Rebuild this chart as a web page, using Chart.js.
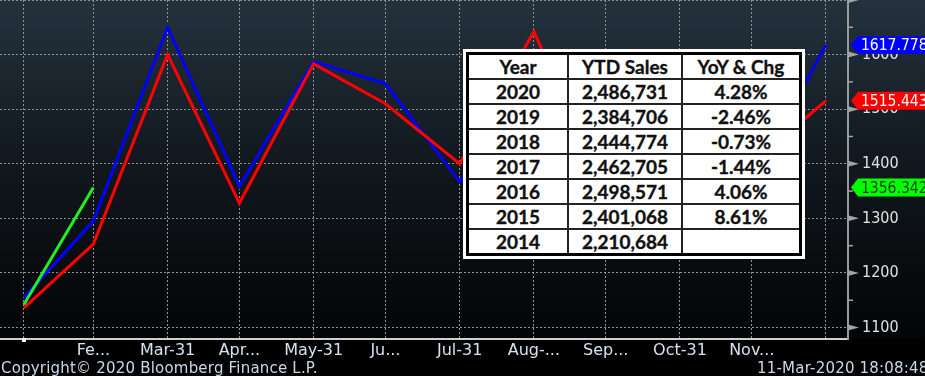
<!DOCTYPE html>
<html>
<head>
<meta charset="utf-8">
<script src="https://cdn.jsdelivr.net/npm/chart.js@4/dist/chart.umd.min.js"></script>
<style>
  html, body { margin: 0; padding: 0; background: #000; }
  #wrap { position: relative; width: 925px; height: 376px; overflow: hidden; }
  #chart { position: absolute; left: 0; top: 0; }
  .foot { position: absolute; top: 359px; font: 15px "DejaVu Sans", sans-serif; letter-spacing: 0.2px; color: #c9d9ea; white-space: nowrap; }
  #ytd-box { position: absolute; left: 463px; top: 49px; background: #fff; padding: 3px; }
  #ytd { border-collapse: collapse; border: 3px solid #000; font: bold 19px Lato, sans-serif; color: #111; -webkit-text-stroke: 0.35px #111; }
  #ytd td { border: 2px solid #222; height: 23px; padding: 0; text-align: center; line-height: 23px; }
</style>
</head>
<body>
<div id="wrap">
  <canvas id="chart" width="925" height="376"></canvas>
  <div id="ytd-box"><table id="ytd"></table></div>
  <div class="foot" style="left:1px">Copyright© 2020 Bloomberg Finance L.P.</div>
  <div class="foot" style="left:757px">11-Mar-2020 18:08:48</div>
</div>
<script>
// month-end day of year (2020)
const monthDays   = [31, 60, 91, 121, 152, 182, 213, 244, 274, 305, 335, 366];
const monthLabels = ['', 'Fe...', 'Mar-31', 'Apr...', 'May-31', 'Ju...', 'Jul-31', 'Aug-...', 'Sep...', 'Oct-31', 'Nov...', ''];

const greenVals = [1142, 1356.342];
const blueVals  = [1155, 1295, 1650, 1359, 1587, 1547, 1367, 1560, 1380, 1540, 1368, 1617.778];
const redVals   = [1136, 1253, 1600, 1328, 1583, 1510, 1400, 1642, 1350, 1560, 1400, 1515.443];

const yTicks = [1100, 1150, 1200, 1250, 1300, 1350, 1400, 1450, 1500, 1550, 1600, 1650, 1700];

const tableYears = ['2020', '2019', '2018', '2017', '2016', '2015', '2014'];
const tableSales = ['2,486,731', '2,384,706', '2,444,774', '2,462,705', '2,498,571', '2,401,068', '2,210,684'];
const tableYoY   = ['4.28%', '-2.46%', '-0.73%', '-1.44%', '4.06%', '8.61%', ''];

function buildTable() {
  const colW = [98, 112, 116];
  const head = ['Year', 'YTD Sales', 'YoY & Chg'];
  const row = cells => '<tr>' + cells.map((c, i) => `<td style="width:${colW[i]}px">${c}</td>`).join('') + '</tr>';
  document.getElementById('ytd').innerHTML =
    row(head) + tableYears.map((y, i) => row([y, tableSales[i], tableYoY[i]])).join('');
}

const toPts = vals => vals.map((v, i) => ({ x: monthDays[i], y: v }));

const bgPlugin = {
  id: 'bg',
  beforeDraw(chart) {
    const { ctx } = chart;
    const bottom = chart.chartArea.bottom;
    ctx.save();
    ctx.fillStyle = '#000';
    ctx.fillRect(0, 0, chart.width, chart.height);
    const g = ctx.createLinearGradient(0, 0, 0, bottom);
    g.addColorStop(0, '#24323d');
    g.addColorStop(0.5, '#10171d');
    g.addColorStop(1, '#030405');
    ctx.fillStyle = g;
    ctx.fillRect(0, 0, chart.width, bottom);
    ctx.restore();
  }
};

// right-axis tick marks and last-value tags
const axisPlugin = {
  id: 'axisMarks',
  afterDraw(chart) {
    const { ctx } = chart;
    const ys = chart.scales.y;
    const x0 = chart.chartArea.right;
    ctx.save();
    ctx.fillStyle = '#a4a4a4';
    ctx.strokeStyle = '#a4a4a4';
    ctx.lineWidth = 1.5;
    yTicks.forEach(v => {
      const y = ys.getPixelForValue(v);
      if (v % 100 === 0) {
        ctx.beginPath();
        ctx.moveTo(x0, y - 3); ctx.lineTo(x0 + 11, y); ctx.lineTo(x0, y + 3);
        ctx.closePath(); ctx.fill();
      } else {
        ctx.beginPath(); ctx.moveTo(x0, y); ctx.lineTo(x0 + 5, y); ctx.stroke();
      }
    });

    const tags = [
      { v: greenVals[greenVals.length - 1], bg: '#00ff00', fg: '#083808' },
      { v: redVals[redVals.length - 1],     bg: '#ff0000', fg: '#ffffff' },
      { v: blueVals[blueVals.length - 1],   bg: '#0000ff', fg: '#ffffff' },
    ];
    ctx.font = '15.5px "DejaVu Sans Condensed", "DejaVu Sans", sans-serif';
    ctx.textBaseline = 'middle';
    tags.forEach(t => {
      const y = ys.getPixelForValue(t.v);
      ctx.fillStyle = t.bg;
      ctx.beginPath();
      ctx.moveTo(x0 + 3, y);
      ctx.lineTo(x0 + 10, y - 9);
      ctx.lineTo(chart.width + 2, y - 9);
      ctx.lineTo(chart.width + 2, y + 9);
      ctx.lineTo(x0 + 10, y + 9);
      ctx.closePath();
      ctx.fill();
      ctx.fillStyle = t.fg;
      ctx.fillText(t.v.toFixed(3), x0 + 13, y + 1);
    });

    ctx.fillStyle = '#ffffff';
    ctx.fillRect(chart.scales.x.getPixelForValue(monthDays[0]) - 2, chart.chartArea.bottom - 1, 4, 4);
    ctx.restore();
  }
};

function render() {
  buildTable();
  const line = (label, vals, color) => ({
    label, data: toPts(vals), borderColor: color, backgroundColor: color,
    borderWidth: 3, pointRadius: 0, tension: 0, fill: false,
  });

  new Chart(document.getElementById('chart'), {
    type: 'line',
    data: {
      datasets: [
        line('2020', greenVals, '#22ee22'),
        line('2019', redVals,   '#ff0000'),
        line('2018', blueVals,  '#0000ff'),
      ]
    },
    options: {
      responsive: false, animation: false,
      layout: { padding: 0 },
      plugins: { legend: { display: false }, tooltip: { enabled: false } },
      scales: {
        x: {
          type: 'linear', min: 21, max: 375.2,
          afterBuildTicks: s => { s.ticks = monthDays.map(v => ({ value: v })); },
          afterFit: s => { s.height = 37; s.paddingLeft = 0; s.paddingRight = 0; },
          ticks: {
            color: '#d5e2f0', font: { family: 'DejaVu Sans', size: 16 }, padding: 2, maxRotation: 0, autoSkip: false,
            callback: v => monthLabels[monthDays.indexOf(v)] || '',
          },
          grid: { color: '#929292', lineWidth: 1, drawTicks: false },
          border: { color: '#cfcfcf', width: 2, dash: [2, 2] },
        },
        y: {
          position: 'right', min: 1079, max: 1700,
          afterBuildTicks: s => { s.ticks = yTicks.map(v => ({ value: v })); },
          afterFit: s => { s.width = 77; s.paddingTop = 0; s.paddingBottom = 0; },
          ticks: {
            color: '#e2e2e2', font: { family: 'DejaVu Sans Condensed', size: 16 }, padding: 14,
            callback: v => (v % 100 === 0 && v < 1700) ? String(v) : '',
          },
          grid: { color: ctx => (ctx.tick && ctx.tick.value % 100 === 0) ? '#929292' : 'rgba(0,0,0,0)', lineWidth: 1, drawTicks: false },
          border: { color: '#9a9a9a', width: 2, dash: [2, 2] },
        }
      }
    },
    plugins: [bgPlugin, axisPlugin],
  });
}

render();
</script>
</body>
</html>
